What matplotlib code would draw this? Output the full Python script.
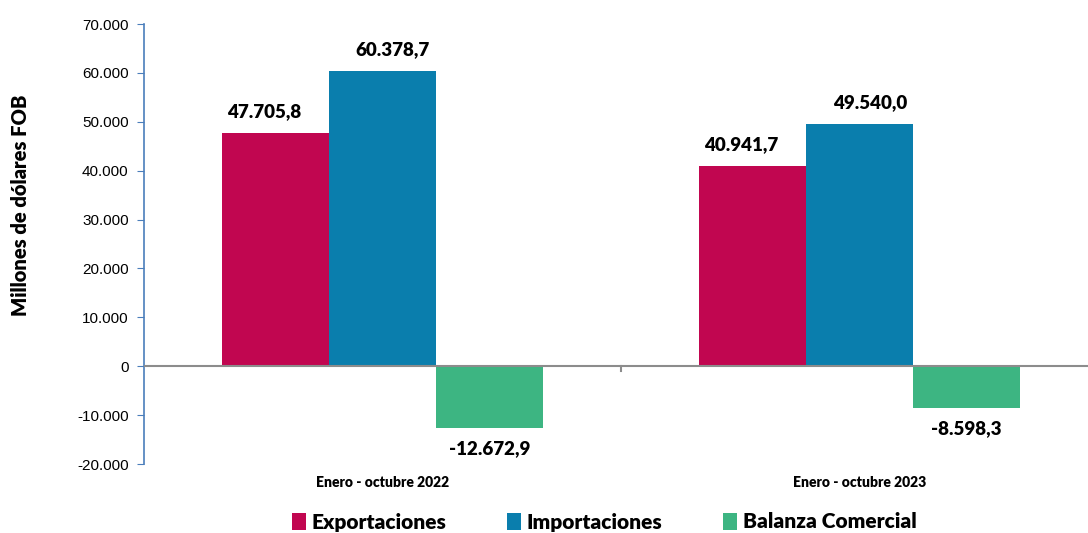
import matplotlib
matplotlib.use('Agg')
import matplotlib.pyplot as plt
import numpy as np
from matplotlib.ticker import FuncFormatter

# Data (millones de dólares FOB)
categories = ['Enero - octubre 2022', 'Enero - octubre 2023']
series_names = ['Exportaciones', 'Importaciones', 'Balanza Comercial']
exportaciones = [47705.8, 40941.7]
importaciones = [60378.7, 49540.0]
balanza = [-12672.9, -8598.3]
y_ticks = [-20000, -10000, 0, 10000, 20000, 30000, 40000, 50000, 60000, 70000]

colors = ['#C10650', '#0A7EAD', '#3DB582']


def fmt_es(v, decimals=0):
    s = f"{v:,.{decimals}f}"
    return s.replace(',', 'X').replace('.', ',').replace('X', '.')


fig = plt.figure(figsize=(10.88, 5.33), dpi=100)
ax = fig.add_axes([144 / 1088, 69 / 533, 954 / 1088, 440 / 533])

x = np.arange(len(categories))
width = 0.224
all_series = [exportaciones, importaciones, balanza]
label_dx = [-0.025, 0.022, 0.0]

for i, (name, vals) in enumerate(zip(series_names, all_series)):
    pos = x + (i - 1) * width
    ax.bar(pos, vals, width=width, color=colors[i], label=name, zorder=2)
    for px, v in zip(pos, vals):
        off = 2600 if v >= 0 else -2400
        ax.text(px + label_dx[i], v + off, fmt_es(v, 1), ha='center',
                va='bottom' if v >= 0 else 'top',
                fontsize=13.5, fontweight='heavy', family='Lato', color='black')

ax.set_xlim(-0.5, 1.5)
ax.set_ylim(-20000, 70000)
ax.set_yticks(y_ticks)
ax.yaxis.set_major_formatter(FuncFormatter(lambda v, p: fmt_es(v)))
ax.tick_params(axis='y', labelsize=11, length=5, color='#4A7EBB', pad=6)
for lbl in ax.get_yticklabels():
    lbl.set_family('Liberation Sans')

# zero line and category separator tick
ax.axhline(0, color='#8C8C8C', linewidth=1.5, zorder=3)
ax.plot([0.5, 0.5], [0, -900], color='#8C8C8C', linewidth=1.5, clip_on=False, zorder=3)

ax.set_xticks([])
for i, c in enumerate(categories):
    ax.text(x[i], -23700, c, ha='center', va='center', fontsize=10,
            fontweight='heavy', family='Lato')

for s in ['top', 'right', 'bottom']:
    ax.spines[s].set_visible(False)
ax.spines['left'].set_color('#4A7EBB')
ax.spines['left'].set_linewidth(1.2)

ax.set_ylabel('Millones de dólares FOB', fontsize=14.5, fontweight='heavy',
              family='Lato')
ax.yaxis.set_label_coords(-0.12, 0.589)

leg = fig.legend(loc='center', bbox_to_anchor=(604 / 1088, 1 - 522 / 533), ncol=3,
                 frameon=False, handlelength=0.7, handleheight=0.85,
                 handletextpad=0.25, columnspacing=2.9,
                 prop={'family': 'Lato', 'weight': 'heavy', 'size': 15})

fig.savefig('out.png', dpi=100)
